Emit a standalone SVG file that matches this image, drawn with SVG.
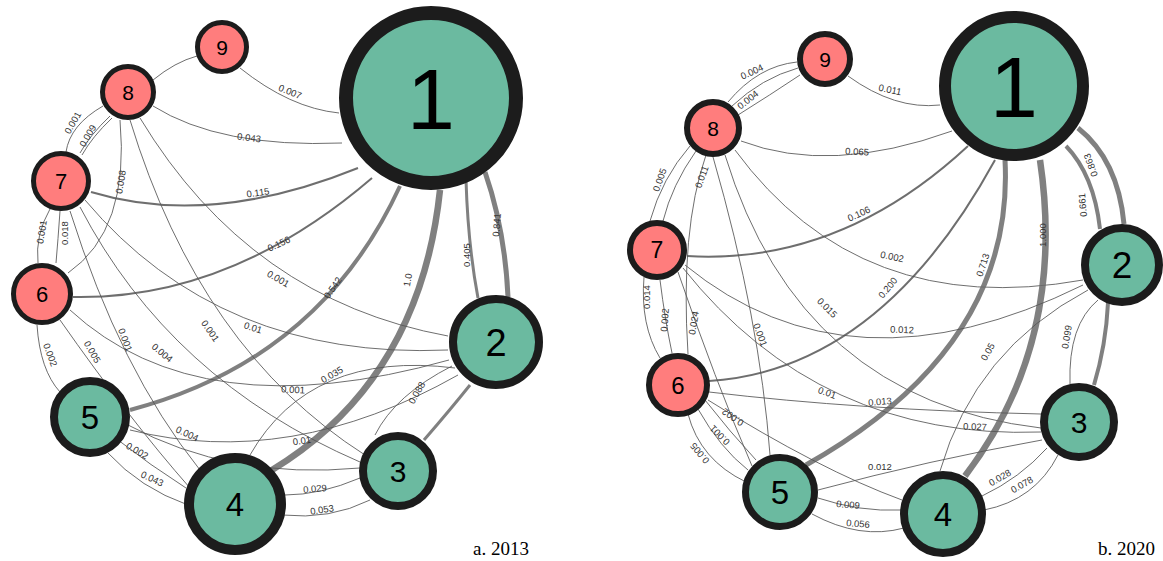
<svg xmlns="http://www.w3.org/2000/svg" width="1163" height="561" viewBox="0 0 1163 561">
<style>
.e{fill:none;stroke:#555;stroke-width:1;stroke-opacity:0.85}
.w2{stroke-width:2;stroke:#555}
.w3{stroke-width:3;stroke:#6a6a6a}
.w4{stroke-width:4;stroke:#6a6a6a}
.w5{stroke-width:5;stroke:#6a6a6a}
.w6{stroke-width:6.5;stroke:#6a6a6a}
.l{font-family:"Liberation Sans",Arial,sans-serif;font-size:9.5px;fill:#333;text-anchor:middle}
.r{fill:#FF7D7D;stroke:#1c1c1c}
.g{fill:#6BBAA0;stroke:#1c1c1c}
.n{font-family:"Liberation Sans",Arial,sans-serif;text-anchor:middle;fill:#000}
.cap{font-family:"Liberation Serif","Times New Roman",serif;font-size:19px;fill:#000}
</style>
<rect width="1163" height="561" fill="#fff"/>
<g id="connectors">
<!-- left 2013 -->
<path class="e" d="M240,68 Q290,108 339,113"/>
<path class="e" d="M153,80 Q175,62 197,56"/>
<path class="e" d="M153,106 Q220,148 342,143"/>
<path class="e w2" d="M91,192 Q210,228 358,168"/>
<path class="e w2" d="M73,297 Q230,300 372,178"/>
<path class="e w4" d="M130,410 Q320,360 400,186"/>
<path class="e w6" d="M272,470 Q420,380 440,190"/>
<path class="e w3" d="M466,180 Q468,245 478,298"/>
<path class="e w5" d="M485,172 Q505,230 508,297"/>
<path class="e" d="M103,106 Q70,125 66,152"/>
<path class="e" d="M110,116 Q90,135 80,153"/>
<path class="e" d="M112,118 Q92,137 82,155"/>
<path class="e" d="M120,120 Q130,230 68,273"/>
<path class="e" d="M50,209 Q35,235 38,263"/>
<path class="e" d="M60,211 Q58,240 56,263"/>
<path class="e" d="M37,325 Q40,370 60,392"/>
<path class="e" d="M60,320 Q130,420 190,488"/>
<path class="e" d="M70,211 Q120,370 200,470"/>
<path class="e" d="M80,207 Q170,380 360,462"/>
<path class="e" d="M130,120 Q200,350 365,455"/>
<path class="e" d="M140,118 Q250,300 448,336"/>
<path class="e" d="M85,200 Q220,360 448,350"/>
<path class="e" d="M70,310 Q200,430 449,360"/>
<path class="e" d="M250,455 Q310,350 455,368"/>
<path class="e" d="M130,430 Q290,470 458,375"/>
<path class="e" d="M128,425 Q230,480 360,468"/>
<path class="e" d="M375,435 Q395,395 452,366"/>
<path class="e w3" d="M424,440 Q450,410 470,385"/>
<path class="e" d="M118,440 Q150,465 186,488"/>
<path class="e" d="M108,453 Q140,488 188,505"/>
<path class="e" d="M285,495 Q320,495 360,478"/>
<path class="e" d="M282,515 Q330,520 370,500"/>
<!-- right 2020 -->
<path class="e" d="M797,62 Q758,66 728,102"/>
<path class="e" d="M798,68 Q762,78 732,106"/>
<path class="e" d="M800,75 Q770,95 738,115"/>
<path class="e" d="M848,76 Q895,110 940,105"/>
<path class="e" d="M741,141 Q830,175 952,131"/>
<path class="e" d="M690,146 Q662,178 650,221"/>
<path class="e" d="M696,151 Q672,185 663,221"/>
<path class="e" d="M706,155 Q680,230 688,354"/>
<path class="e" d="M713,157 Q760,320 770,455"/>
<path class="e" d="M725,155 Q800,400 1041,428"/>
<path class="e" d="M735,150 Q860,320 1083,280"/>
<path class="e w2" d="M687,256 Q840,265 968,146"/>
<path class="e w2" d="M709,381 Q880,370 995,160"/>
<path class="e w5" d="M806,465 Q1015,347 1005,160"/>
<path class="e w6" d="M965,476 Q1067,342 1040,160"/>
<path class="e w4" d="M1066,146 Q1094,175 1100,229"/>
<path class="e w5" d="M1078,128 Q1118,160 1124,224"/>
<path class="e w4" d="M1108,303 Q1106,345 1094,385"/>
<path class="e" d="M1098,300 Q1068,325 1070,384"/>
<path class="e" d="M685,265 Q850,400 1083,285"/>
<path class="e" d="M940,471 Q975,350 1088,290"/>
<path class="e" d="M683,268 Q820,440 1041,432"/>
<path class="e" d="M709,392 Q860,410 1041,414"/>
<path class="e" d="M818,490 Q930,460 1042,440"/>
<path class="e" d="M708,400 Q820,470 902,500"/>
<path class="e" d="M982,496 Q1020,478 1047,448"/>
<path class="e" d="M984,510 Q1035,500 1058,455"/>
<path class="e" d="M818,498 Q860,512 901,510"/>
<path class="e" d="M812,514 Q860,540 904,528"/>
<path class="e" d="M688,414 Q700,460 746,482"/>
<path class="e" d="M698,409 Q720,448 748,470"/>
<path class="e" d="M705,400 Q730,432 756,460"/>
<path class="e" d="M644,277 Q640,325 660,358"/>
<path class="e" d="M660,280 Q665,320 672,353"/>
<path class="e" d="M678,272 Q715,380 752,466"/>
</g>
<g id="edge-labels">
<text class="l" transform="translate(290,92) rotate(22)" y="3">0.007</text>
<text class="l" transform="translate(249,138) rotate(7)" y="3">0.043</text>
<text class="l" transform="translate(258,193) rotate(-8)" y="3">0.115</text>
<text class="l" transform="translate(279,244) rotate(-25)" y="3">0.156</text>
<text class="l" transform="translate(333,288) rotate(-55)" y="3">0.542</text>
<text class="l" transform="translate(408,280) rotate(-80)" y="3">1.0</text>
<text class="l" transform="translate(467,255) rotate(-90)" y="3">0.405</text>
<text class="l" transform="translate(497,225) rotate(-85)" y="3">0.841</text>
<text class="l" transform="translate(73,123) rotate(-60)" y="3">0.001</text>
<text class="l" transform="translate(88,136) rotate(-60)" y="3">0.009</text>
<text class="l" transform="translate(121,182) rotate(-80)" y="3">0.008</text>
<text class="l" transform="translate(42,232) rotate(-80)" y="3">0.001</text>
<text class="l" transform="translate(65,233) rotate(-90)" y="3">0.018</text>
<text class="l" transform="translate(50,355) rotate(70)" y="3">0.002</text>
<text class="l" transform="translate(92,352) rotate(60)" y="3">0.005</text>
<text class="l" transform="translate(125,340) rotate(70)" y="3">0.001</text>
<text class="l" transform="translate(162,353) rotate(40)" y="3">0.004</text>
<text class="l" transform="translate(210,331) rotate(55)" y="3">0.001</text>
<text class="l" transform="translate(253,328) rotate(18)" y="3">0.01</text>
<text class="l" transform="translate(278,279) rotate(30)" y="3">0.001</text>
<text class="l" transform="translate(332,375) rotate(-30)" y="3">0.035</text>
<text class="l" transform="translate(293,390) rotate(3)" y="3">0.001</text>
<text class="l" transform="translate(302,441) rotate(-8)" y="3">0.01</text>
<text class="l" transform="translate(417,393) rotate(-60)" y="3">0.088</text>
<text class="l" transform="translate(187,434) rotate(25)" y="3">0.004</text>
<text class="l" transform="translate(137,451) rotate(30)" y="3">0.002</text>
<text class="l" transform="translate(152,479) rotate(25)" y="3">0.043</text>
<text class="l" transform="translate(315,489) rotate(-5)" y="3">0.029</text>
<text class="l" transform="translate(322,510) rotate(-8)" y="3">0.053</text>
<text class="l" transform="translate(752,72) rotate(-25)" y="3">0.004</text>
<text class="l" transform="translate(748,100) rotate(-38)" y="3">0.004</text>
<text class="l" transform="translate(890,90) rotate(12)" y="3">0.011</text>
<text class="l" transform="translate(857,152) rotate(3)" y="3">0.065</text>
<text class="l" transform="translate(660,180) rotate(-70)" y="3">0.005</text>
<text class="l" transform="translate(702,177) rotate(-70)" y="3">0.011</text>
<text class="l" transform="translate(859,214) rotate(-25)" y="3">0.106</text>
<text class="l" transform="translate(892,257) rotate(12)" y="3">0.002</text>
<text class="l" transform="translate(888,288) rotate(-50)" y="3">0.200</text>
<text class="l" transform="translate(983,265) rotate(-72)" y="3">0.713</text>
<text class="l" transform="translate(1043,235) rotate(-90)" y="3">1.000</text>
<text class="l" transform="translate(1083,205) rotate(-95)" y="3">0.661</text>
<text class="l" transform="translate(1091,165) rotate(-110)" y="3">0.863</text>
<text class="l" transform="translate(902,330) rotate(2)" y="3">0.012</text>
<text class="l" transform="translate(988,352) rotate(-60)" y="3">0.05</text>
<text class="l" transform="translate(1067,337) rotate(-80)" y="3">0.099</text>
<text class="l" transform="translate(647,297) rotate(-90)" y="3">0.014</text>
<text class="l" transform="translate(665,320) rotate(-85)" y="3">0.002</text>
<text class="l" transform="translate(694,323) rotate(-80)" y="3">0.024</text>
<text class="l" transform="translate(760,335) rotate(70)" y="3">0.001</text>
<text class="l" transform="translate(827,308) rotate(45)" y="3">0.015</text>
<text class="l" transform="translate(827,393) rotate(20)" y="3">0.01</text>
<text class="l" transform="translate(880,402) rotate(-5)" y="3">0.013</text>
<text class="l" transform="translate(975,427) rotate(2)" y="3">0.027</text>
<text class="l" transform="translate(880,467) rotate(0)" y="3">0.012</text>
<text class="l" transform="translate(1000,478) rotate(-30)" y="3">0.028</text>
<text class="l" transform="translate(1022,485) rotate(-30)" y="3">0.078</text>
<text class="l" transform="translate(848,505) rotate(5)" y="3">0.009</text>
<text class="l" transform="translate(858,524) rotate(5)" y="3">0.056</text>
<text class="l" transform="translate(733,417) rotate(215)" y="3">0.002</text>
<text class="l" transform="translate(720,435) rotate(225)" y="3">0.001</text>
<text class="l" transform="translate(700,453) rotate(230)" y="3">0.005</text>
</g>
<g id="a-n1"><circle class="g" cx="431" cy="98" r="85" stroke-width="14"/><text class="n" x="431" y="129" font-size="86">1</text></g>
<g id="a-n2"><circle class="g" cx="496" cy="342" r="43" stroke-width="8"/><text class="n" x="496" y="356" font-size="38">2</text></g>
<g id="a-n3"><circle class="g" cx="398" cy="471" r="35" stroke-width="8"/><text class="n" x="398" y="482" font-size="30">3</text></g>
<g id="a-n4"><circle class="g" cx="235" cy="504" r="46" stroke-width="10"/><text class="n" x="235" y="516" font-size="33">4</text></g>
<g id="a-n5"><circle class="g" cx="90" cy="417" r="36" stroke-width="8"/><text class="n" x="90" y="429" font-size="33">5</text></g>
<g id="a-n6"><circle class="r" cx="42" cy="294" r="28.5" stroke-width="5"/><text class="n" x="42" y="302" font-size="22">6</text></g>
<g id="a-n7"><circle class="r" cx="61" cy="181" r="27.5" stroke-width="5"/><text class="n" x="61" y="189" font-size="22">7</text></g>
<g id="a-n8"><circle class="r" cx="128" cy="92" r="25.5" stroke-width="5"/><text class="n" x="128" y="99.5" font-size="21">8</text></g>
<g id="a-n9"><circle class="r" cx="222" cy="47" r="24.5" stroke-width="5"/><text class="n" x="222" y="54.5" font-size="21">9</text></g>
<g id="b-n1"><circle class="g" cx="1014" cy="86" r="69" stroke-width="12"/><text class="n" x="1014" y="117" font-size="86">1</text></g>
<g id="b-n2"><circle class="g" cx="1122" cy="265" r="37" stroke-width="8"/><text class="n" x="1122" y="278" font-size="37">2</text></g>
<g id="b-n3"><circle class="g" cx="1079" cy="422" r="35" stroke-width="8"/><text class="n" x="1079" y="433" font-size="30">3</text></g>
<g id="b-n4"><circle class="g" cx="943" cy="514" r="39" stroke-width="8"/><text class="n" x="943" y="526" font-size="33">4</text></g>
<g id="b-n5"><circle class="g" cx="780" cy="492" r="34.5" stroke-width="7"/><text class="n" x="780" y="504" font-size="33">5</text></g>
<g id="b-n6"><circle class="r" cx="678" cy="385" r="29" stroke-width="6"/><text class="n" x="678" y="393.5" font-size="24">6</text></g>
<g id="b-n7"><circle class="r" cx="657" cy="250" r="27" stroke-width="6"/><text class="n" x="657" y="258" font-size="23">7</text></g>
<g id="b-n8"><circle class="r" cx="713" cy="128" r="26" stroke-width="6"/><text class="n" x="713" y="135.5" font-size="21">8</text></g>
<g id="b-n9"><circle class="r" cx="825" cy="59" r="25" stroke-width="6"/><text class="n" x="825" y="66.5" font-size="21">9</text></g>
<text class="cap" x="473" y="555">a. 2013</text>
<text class="cap" x="1098" y="555">b. 2020</text>
</svg>
